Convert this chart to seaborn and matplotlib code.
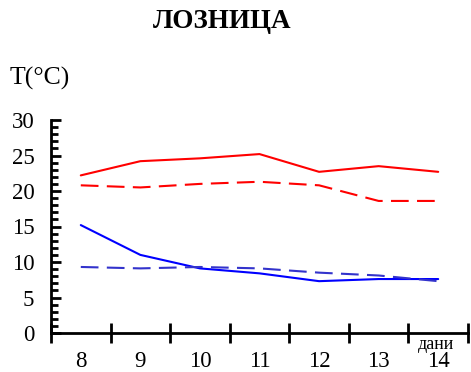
import matplotlib
matplotlib.use("Agg")
import matplotlib.pyplot as plt
import seaborn as sns
import pandas as pd
from matplotlib.ticker import MultipleLocator, FixedLocator

days = ["8", "9", "10", "11", "12", "13", "14"]
red_solid = [22.2, 24.2, 24.6, 25.2, 22.7, 23.5, 22.7]
red_dashed = [20.8, 20.5, 21.0, 21.3, 20.8, 18.6, 18.6]
blue_solid = [15.2, 11.0, 9.1, 8.4, 7.3, 7.6, 7.6]
blue_dashed = [9.3, 9.1, 9.3, 9.1, 8.5, 8.1, 7.3]

sns.set_style("white")
plt.rcParams['font.family'] = ['Liberation Serif', 'DejaVu Serif']
plt.rcParams['text.color'] = 'black'

fig = plt.figure(figsize=(4.71, 3.72), dpi=100)
ax = fig.add_axes([51/471, (372-333)/372, (468-51)/471, (333-120)/372])

series = [
    (red_solid, "#ff0000", "-"),
    (red_dashed, "#ff0000", (0, (8.5, 4))),
    (blue_solid, "#0000ff", "-"),
    (blue_dashed, "#3333cc", (0, (8.5, 4))),
]
for vals, col, ls in series:
    df = pd.DataFrame({"day": days, "t": vals})
    sns.lineplot(data=df, x="day", y="t", color=col, linestyle=ls, lw=1.5, ax=ax, sort=False)

ax.set_xlim(-0.5, 6.5)
ax.set_ylim(0, 30)
ax.set_xlabel("")
ax.set_ylabel("")
for s in ["top", "right"]:
    ax.spines[s].set_visible(False)
for s in ["left", "bottom"]:
    ax.spines[s].set_color("black")
    ax.spines[s].set_linewidth(2)

ax.yaxis.set_major_locator(MultipleLocator(5))
ax.yaxis.set_minor_locator(MultipleLocator(1))
ax.tick_params(axis="y", which="major", left=True, direction="in", length=7, width=2,
               labelsize=16.5, pad=12, colors="black", labelcolor="black")
ax.tick_params(axis="y", which="minor", left=True, direction="in", length=5, width=2, colors="black")

ax.xaxis.set_major_locator(FixedLocator([i - 0.5 for i in range(8)]))
ax.xaxis.set_minor_locator(FixedLocator(list(range(7))))
ax.set_xticklabels([], minor=False)
ax.set_xticklabels(days, minor=True)
ax.tick_params(axis="x", which="major", bottom=True, direction="inout", length=14, width=2, colors="black")
ax.tick_params(axis="x", which="minor", bottom=True, length=0, labelsize=16.5, pad=13,
               colors="black", labelcolor="black")
for lab in ax.get_yticklabels() + ax.get_xticklabels(minor=True):
    lab.set_fontfamily(['Liberation Serif', 'DejaVu Serif'])

fig.text(222/471, 1 - 22/372, "ЛОЗНИЦА", ha="center", va="center",
         fontsize=19.5, fontweight="bold", color="black")
fig.text(10/471, 1 - 78/372, "T(°C)", ha="left", va="center", fontsize=18.5, color="black")
ax.text(5.96, -1.6, "дани", transform=ax.transData, ha="center", va="center",
        fontsize=13, clip_on=False, color="black")

fig.savefig("out.png", dpi=100)
